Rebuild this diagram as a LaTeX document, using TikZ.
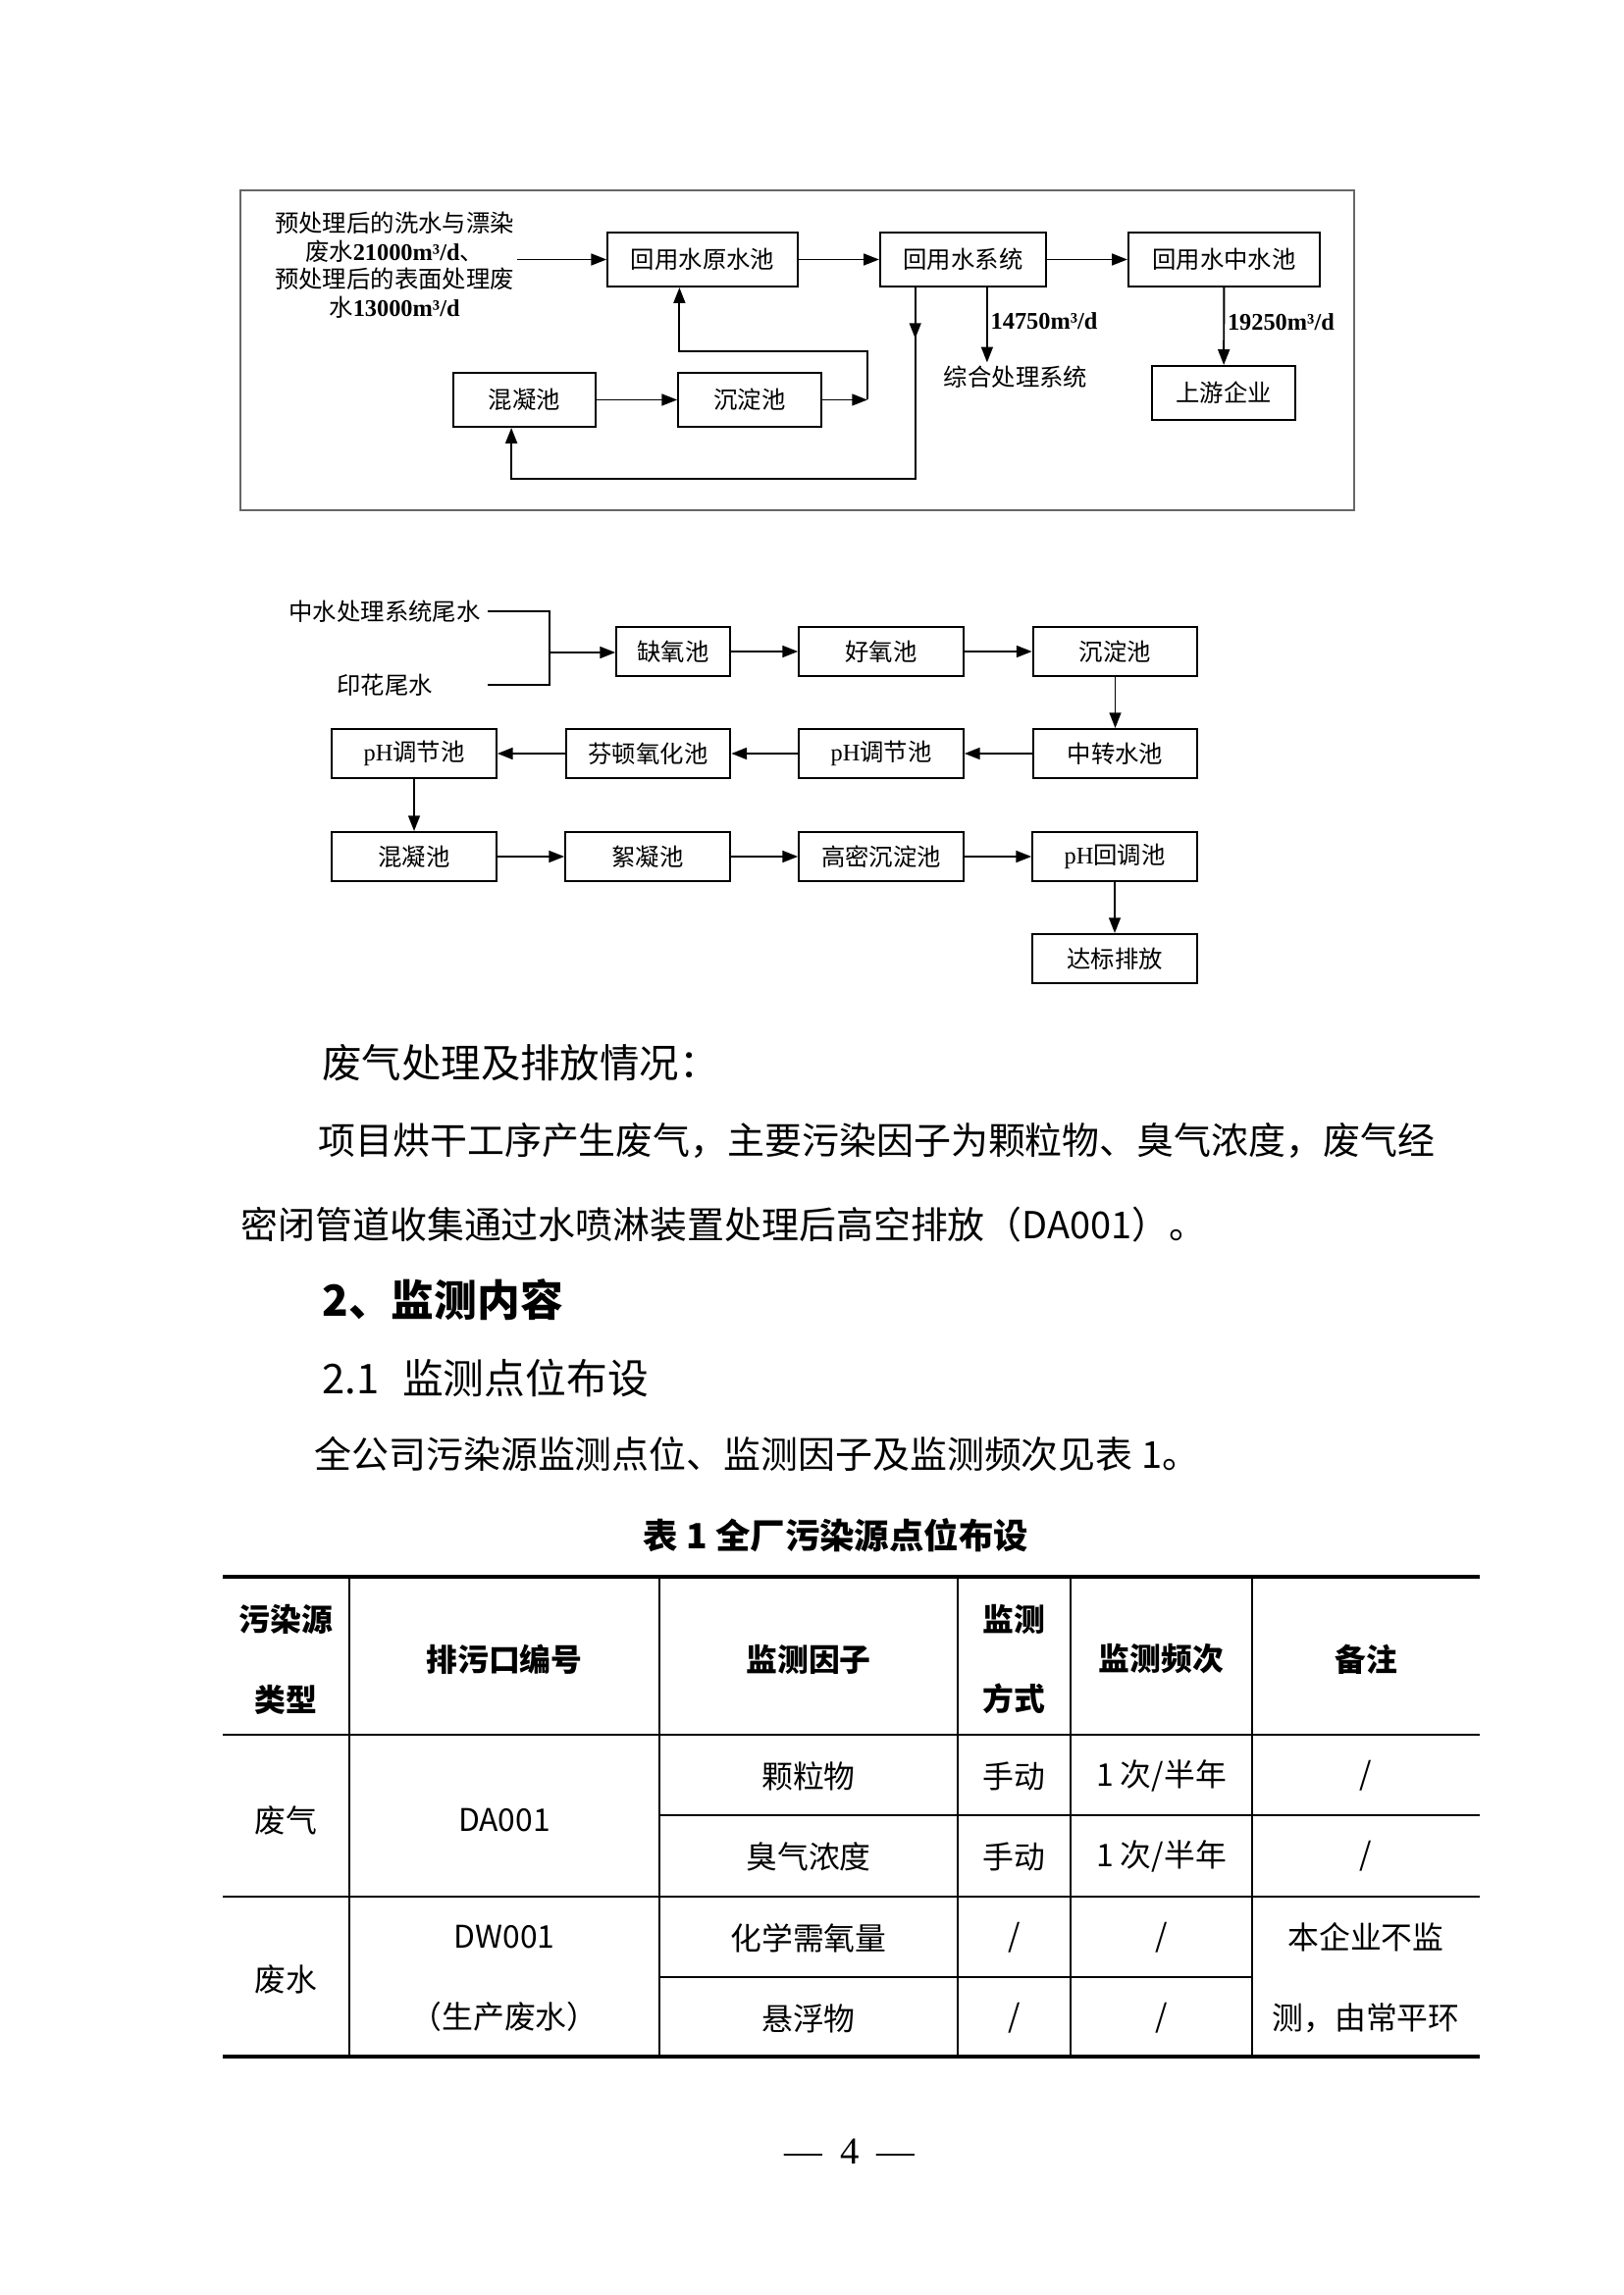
\documentclass[tikz,border=0pt]{standalone}
\usepackage{fontspec}
\setmainfont{Liberation Serif}
\newfontfamily\cjk{Noto Sans CJK SC}
\usetikzlibrary{arrows.meta,positioning,calc}

\begin{document}
\begin{tikzpicture}[x=0.127mm,y=-0.127mm,
  box/.style={draw,line width=0.7pt,inner sep=0pt,minimum height=7mm,font=\cjk\fontsize{8.8}{10.3}\selectfont},
  sbox/.style={box,minimum height=6.35mm},
  wbox/.style={sbox,minimum width=21.3mm},
  arr/.style={-{Triangle[length=2mm,width=1.5mm]},line width=0.7pt},
  lbl/.style={inner sep=1pt,font=\cjk\fontsize{8.8}{10.3}\selectfont},
  body/.style={anchor=west,inner sep=0pt,font=\cjk\fontsize{13.7}{16}\selectfont},
  cell/.style={inner sep=0pt,align=center,font=\cjk\fontsize{11.5}{29.6}\selectfont},
  hcell/.style={cell,font=\cjk\bfseries\fontsize{11.5}{29.6}\selectfont},
  rule/.style={line width=0.6pt}]
\useasboundingbox (0,0) rectangle (1654,2339);

% recycled water loop
\draw[black!60,line width=0.5pt] (245,194) rectangle (1380,520);
\node[lbl,align=center] (in) at (402,270) {预处理后的洗水与漂染\\废水{\rmfamily\bfseries 21000m³/d}、\\预处理后的表面处理废\\水{\rmfamily\bfseries 13000m³/d}};
\node[box,minimum width=24.6mm] (ysc) at (716,264.5) {回用水原水池};
\node[box,minimum width=21.5mm] (xt) at (981.5,264.5) {回用水系统};
\node[box,minimum width=24.8mm] (zsc) at (1247.5,264.5) {回用水中水池};
\node[box,minimum width=18.4mm] (hn) at (534.5,407.5) {混凝池};
\node[box,minimum width=18.5mm] (cd) at (764,407.5) {沉淀池};
\node[box,minimum width=18.5mm] (syqy) at (1247,400.5) {上游企业};
\node[lbl] (zh) at (1035,384) {综合处理系统};
\coordinate (xtr) at ([xshift=3.1mm]xt.south);
\coordinate (xtl) at ([xshift=-6.2mm]xt.south);
\coordinate (lpb) at (933,488);
\coordinate (rtn) at (884,358);

\draw[arr] (in.east |- ysc) -- (ysc);
\draw[arr] (ysc) -- (xt);
\draw[arr] (xt) -- (zsc);
\draw[arr] (zsc) -- (syqy) node[lbl,pos=0.45,right] {\rmfamily\bfseries 19250m³/d};
\draw[arr] (xtr) -- (xtr |- zh.north) node[lbl,pos=0.45,right] {\rmfamily\bfseries 14750m³/d};
\draw[arr] (xtl) -- ++(0,52);
\draw[arr] (xtl) -- (xtl |- lpb) -| ([xshift=-1.7mm]hn.south);
\draw[arr] (hn) -- (cd);
\draw[arr] (cd) -- (cd -| rtn);
\draw[arr] (cd -| rtn) -- (rtn) -| ([xshift=-3mm]ysc.south);

% tail water treatment
\node[lbl,inner sep=0pt,text width=26.5mm,align=center] (src1) at (392,623) {中水处理系统尾水};
\node[lbl,inner sep=0pt,text width=26.5mm,align=center] (src2) at (392,698) {印花尾水};
\coordinate (jn) at (560,665);
\node[sbox,minimum width=14.7mm] (qy) at (686,664) {缺氧池};
\node[wbox] (hy) at (898,664) {好氧池};
\node[wbox] (cd2) at (1136.5,664) {沉淀池};
\node[wbox] (zz) at (1136.5,768) {中转水池};
\node[wbox] (ph1) at (898,768) {{\rmfamily pH}调节池};
\node[wbox] (fd) at (660.5,768) {芬顿氧化池};
\node[wbox] (ph2) at (422,768) {{\rmfamily pH}调节池};
\node[wbox] (hn2) at (422,873) {混凝池};
\node[wbox] (xn) at (660,873) {絮凝池};
\node[wbox] (gm) at (898,873) {高密沉淀池};
\node[wbox] (phh) at (1136,873) {{\rmfamily pH}回调池};
\node[wbox] (db) at (1136,977) {达标排放};

\draw[line width=0.7pt] (src1.east) -| (jn) |- (src2.east);
\draw[arr] (jn) -- (jn -| qy.west);
\draw[arr] (qy) -- (hy);
\draw[arr] (hy) -- (cd2);
\draw[arr] (cd2) -- (zz);
\draw[arr] (zz) -- (ph1);
\draw[arr] (ph1) -- (fd);
\draw[arr] (fd) -- (ph2);
\draw[arr] (ph2) -- (hn2);
\draw[arr] (hn2) -- (xn);
\draw[arr] (xn) -- (gm);
\draw[arr] (gm) -- (phh);
\draw[arr] (phh) -- (db);

% text
\node[body,font=\cjk\fontsize{14.6}{16}\selectfont] (t1) at (328,1083) {废气处理及排放情况：};
\node[body] (t2) at (324,1163) {项目烘干工序产生废气，主要污染因子为颗粒物、臭气浓度，废气经};
\node[body] (t3) at (245,1248) {密闭管道收集通过水喷淋装置处理后高空排放（DA001）。};
\node[body,font=\cjk\bfseries\fontsize{15.8}{18}\selectfont] (t4) at (328,1325) {2、监测内容};
\node[body,font=\cjk\fontsize{15.1}{18}\selectfont] (t5) at (328,1405) {2.1\hspace{3mm}监测点位布设};
\node[body] (t6) at (320,1482) {全公司污染源监测点位、监测因子及监测频次见表 1。};
\node[font=\cjk\bfseries\fontsize{12.8}{15}\selectfont] (cap) at (852,1565) {表 1 全厂污染源点位布设};

% table
\draw[line width=1.2pt] (227,1607) -- (1508,1607);
\draw[rule] (227,1768) -- (1508,1768);
\draw[rule] (672,1850) -- (1508,1850);
\draw[line width=0.9pt] (227,1933) -- (1508,1933);
\draw[rule] (672,2015) -- (1276,2015);
\draw[line width=1.2pt] (227,2096) -- (1508,2096);
\draw[rule] (356,1607) -- (356,2096);
\draw[rule] (672,1607) -- (672,2096);
\draw[rule] (976,1607) -- (976,2096);
\draw[rule] (1091,1607) -- (1091,2096);
\draw[rule] (1276,1607) -- (1276,2096);

\node[hcell] (h1) at (291.5,1691) {污染源\\类型};
\node[hcell] (h2) at (514,1691) {排污口编号};
\node[hcell] (h3) at (824,1691) {监测因子};
\node[hcell] (h4) at (1033.5,1691) {监测\\方式};
\node[hcell] (h5) at (1183.5,1691) {监测频次};
\node[hcell] (h6) at (1392,1691) {备注};

\node[cell] (a1) at (291.5,1855) {废气};
\node[cell] (a2) at (514,1855) {DA001};
\node[cell] (a3) at (824,1810) {颗粒物};
\node[cell] (a4) at (1033.5,1810) {手动};
\node[cell] (a5) at (1183.5,1810) {1 次/半年};
\node[cell] (a6) at (1392,1810) {/};
\node[cell] (b3) at (824,1892) {臭气浓度};
\node[cell] (b4) at (1033.5,1892) {手动};
\node[cell] (b5) at (1183.5,1892) {1 次/半年};
\node[cell] (b6) at (1392,1892) {/};

\node[cell] (c1) at (291.5,2017) {废水};
\node[cell] (c2) at (514,2016) {DW001\\（生产废水）};
\node[cell] (c3) at (824,1975) {化学需氧量};
\node[cell] (c4) at (1033.5,1975) {/};
\node[cell] (c5) at (1183.5,1975) {/};
\node[cell] (c6) at (1392,2016) {本企业不监\\测，由常平环};
\node[cell] (d3) at (824,2057) {悬浮物};
\node[cell] (d4) at (1033.5,2057) {/};
\node[cell] (d5) at (1183.5,2057) {/};

\node[font=\fontsize{14}{16}\selectfont] (pg) at (866,2193) {—\hspace{2.3mm}4\hspace{2.3mm}—};
\end{tikzpicture}
\end{document}
